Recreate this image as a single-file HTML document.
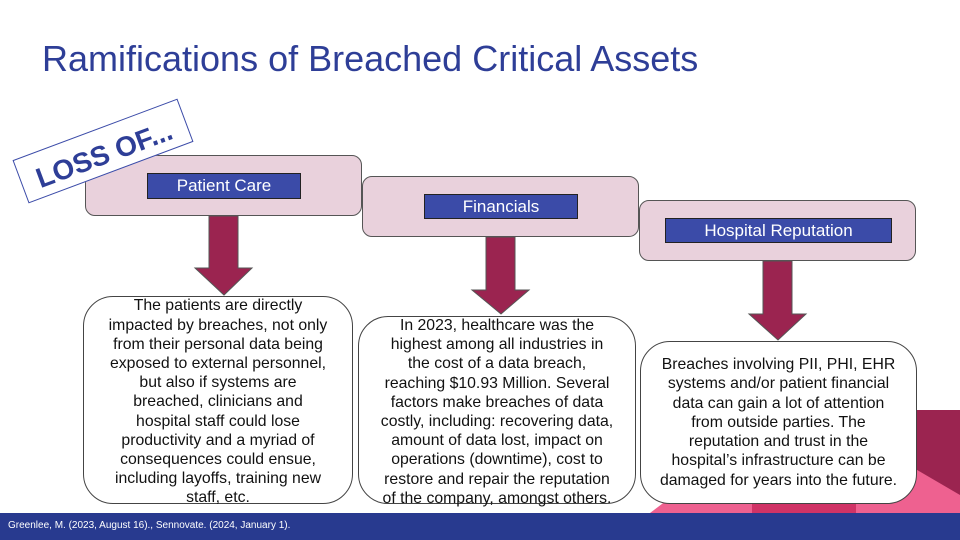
<!DOCTYPE html>
<html><head><meta charset="utf-8"><style>
body{margin:0;width:960px;height:540px;overflow:hidden;background:#fff;font-family:"Liberation Sans",sans-serif;position:relative}
.abs{position:absolute;box-sizing:border-box}
.cat{background:#e9d1dc;border:1.3px solid #555;border-radius:10px}
.lbl{background:#3b4ba8;border:1px solid #222;color:#fff;font-size:17px;display:flex;align-items:center;justify-content:center}
.txt{background:#fff;border:1.3px solid #444;border-radius:30px;font-size:15.8px;line-height:19.2px;text-align:center;color:#111;display:flex;align-items:center;justify-content:center;white-space:nowrap}
</style></head><body>
<svg class="abs" style="left:0;top:0" width="960" height="540">
<polygon points="917,410 960,410 960,513 917,470" fill="#9b2450"/>
<polygon points="650,513 720,460 900,460 960,495 960,513" fill="#ee6190"/>
<rect x="752" y="503" width="104" height="10" fill="#d03366"/>
<polygon points="209,216 238,216 238,268 252,268 224,295 195,268 209,268" fill="#9b2450" stroke="#555" stroke-width="1"/>
<polygon points="486,237 515,237 515,290 529,290 501,314 472,290 486,290" fill="#9b2450" stroke="#555" stroke-width="1"/>
<polygon points="763,261 792,261 792,314 806,314 778,340 749,314 763,314" fill="#9b2450" stroke="#555" stroke-width="1"/>
</svg>
<div class="abs" style="left:42px;top:38px;font-size:36px;color:#2e3e97;white-space:nowrap">Ramifications of Breached Critical Assets</div>

<div class="abs cat" style="left:85px;top:155px;width:277px;height:61px"></div>
<div class="abs lbl" style="left:147px;top:173px;width:154px;height:26px">Patient Care</div>
<div class="abs cat" style="left:362px;top:176px;width:277px;height:61px"></div>
<div class="abs lbl" style="left:424px;top:194px;width:154px;height:25px">Financials</div>
<div class="abs cat" style="left:639px;top:200px;width:277px;height:61px"></div>
<div class="abs lbl" style="left:665px;top:218px;width:227px;height:25px">Hospital Reputation</div>

<div class="abs" style="left:15px;top:128px;width:176px;height:46px;border:1px solid #3b4ba8;background:#fff;transform:rotate(-20.5deg);display:flex;align-items:flex-end;justify-content:center;padding-bottom:2px;color:#2e3e97;font-weight:bold;font-size:28px">LOSS OF...</div>

<div class="abs txt" style="left:83px;top:296px;width:270px;height:208px;padding-top:4px">The patients are directly<br>impacted by breaches, not only<br>from their personal data being<br>exposed to external personnel,<br>but also if systems are<br>breached, clinicians and<br>hospital staff could lose<br>productivity and a myriad of<br>consequences could ensue,<br>including layoffs, training new<br>staff, etc.</div>
<div class="abs txt" style="left:358px;top:316px;width:278px;height:188px;padding-top:4px">In 2023, healthcare was the<br>highest among all industries in<br>the cost of a data breach,<br>reaching $10.93 Million. Several<br>factors make breaches of data<br>costly, including: recovering data,<br>amount of data lost, impact on<br>operations (downtime), cost to<br>restore and repair the reputation<br>of the company, amongst others.</div>
<div class="abs txt" style="left:640px;top:341px;width:277px;height:163px">Breaches involving PII, PHI, EHR<br>systems and/or patient financial<br>data can gain a lot of attention<br>from outside parties. The<br>reputation and trust in the<br>hospital’s infrastructure can be<br>damaged for years into the future.</div>

<div class="abs" style="left:0;top:513px;width:960px;height:27px;background:#283a8f;color:#fff;font-size:10px;padding:7px 0 0 8px">Greenlee, M. (2023, August 16)., Sennovate. (2024, January 1).</div>
</body></html>
